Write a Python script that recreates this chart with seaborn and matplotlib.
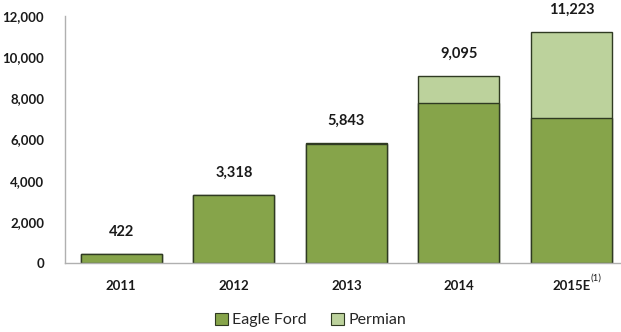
import numpy as np
import pandas as pd
import matplotlib
matplotlib.use('Agg')
import matplotlib.pyplot as plt
from matplotlib.patches import Patch
import seaborn as sns

# ── data ──
years = ['2011', '2012', '2013', '2014', '2015E']
eagle_ford = [422, 3318, 5800, 7770, 7030]
permian = [0, 0, 43, 1325, 4193]
totals = [422, 3318, 5843, 9095, 11223]
y_ticks = [0, 2000, 4000, 6000, 8000, 10000, 12000]

eagle_color = '#86a44a'
permian_color = '#bcd29c'
edge_color = '#2f3a22'

df = pd.DataFrame({'year': years, 'eagle_ford': eagle_ford,
                   'permian': permian, 'total': totals})

sns.set_style('white')
plt.rcParams['font.family'] = ['Lato', 'DejaVu Sans']

fig = plt.figure(figsize=(6.21, 3.32), dpi=100)
ax = fig.add_axes([65 / 621, 69 / 332, 556 / 621, 247 / 332])

# stacked look: draw total (Permian colour) then Eagle Ford on top of it
sns.barplot(data=df, x='year', y='total', color=permian_color, width=0.72,
            edgecolor=edge_color, linewidth=1.0, saturation=1, ax=ax)
sns.barplot(data=df, x='year', y='eagle_ford', color=eagle_color, width=0.72,
            edgecolor=edge_color, linewidth=1.0, saturation=1, ax=ax)

ax.set_xlim(-0.5, 4.44)
ax.set_ylim(0, 12000)
ax.set_yticks(y_ticks)
ax.set_yticklabels([f'{v:,}' for v in y_ticks], fontweight='bold', fontsize=9.5)
ax.set_xticks(range(len(years)))
ax.set_xticklabels(years, fontweight='bold', fontsize=9.5)
ax.set_xlabel('')
ax.set_ylabel('')

for s in ['top', 'right']:
    ax.spines[s].set_visible(False)
for s in ['left', 'bottom']:
    ax.spines[s].set_color('#b0b0b0')
    ax.spines[s].set_linewidth(1.0)
ax.tick_params(axis='y', length=4, width=1, color='#b0b0b0', pad=11, labelcolor='#1a1a1a')
ax.tick_params(axis='x', length=0, pad=12, labelcolor='#1a1a1a')

# superscript footnote on the last tick label
ax.annotate('(1)', xy=(4, 0), xycoords=('data', 'axes fraction'),
            xytext=(14, -11), textcoords='offset points',
            fontsize=7, ha='left', va='center', color='#1a1a1a',
            annotation_clip=False)

# total labels above bars
for i, t in enumerate(totals):
    ax.annotate(f'{t:,}', xy=(i, t), xytext=(0, 16), textcoords='offset points',
                ha='center', va='center', fontsize=10.5, fontweight='bold',
                color='#1a1a1a', annotation_clip=False)

handles = [Patch(facecolor=eagle_color, edgecolor=edge_color, linewidth=0.8, label='Eagle Ford'),
           Patch(facecolor=permian_color, edgecolor=edge_color, linewidth=0.8, label='Permian')]
fig.legend(handles=handles, loc='center', bbox_to_anchor=(0.5, 0.036), ncol=2,
           frameon=False, fontsize=11.5, handlelength=0.8, handleheight=0.8,
           handletextpad=0.3, columnspacing=1.5)

fig.savefig('out.png', dpi=100)
